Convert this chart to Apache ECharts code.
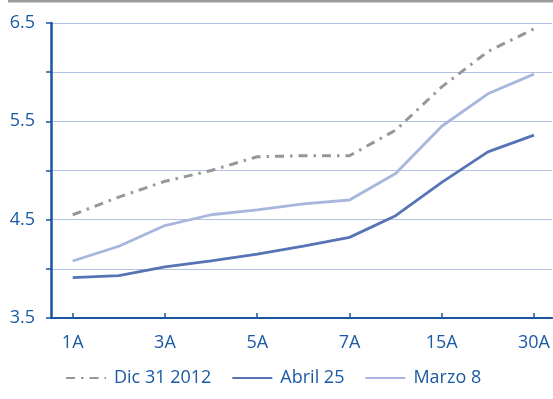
<!DOCTYPE html>
<html>
<head>
<meta charset="utf-8">
<script src="https://cdn.jsdelivr.net/npm/echarts@6/dist/echarts.min.js"></script>
<style>
  html, body { margin: 0; padding: 0; background: #ffffff; }
  #chart { width: 553px; height: 399px; }
</style>
</head>
<body>
<div id="chart"></div>
<script>
// Plazos de la curva
const categories = ['1A', '2A', '3A', '4A', '5A', '6A', '7A', '10A', '15A', '20A', '30A'];

// Rendimientos por fecha
const dic312012 = [4.55, 4.73, 4.89, 5.00, 5.14, 5.15, 5.15, 5.41, 5.85, 6.21, 6.44];
const abril25   = [3.91, 3.93, 4.02, 4.08, 4.15, 4.23, 4.32, 4.54, 4.88, 5.19, 5.36];
const marzo8    = [4.08, 4.23, 4.44, 4.55, 4.60, 4.66, 4.70, 4.97, 5.45, 5.78, 5.98];

const seriesNames = ['Dic 31 2012', 'Abril 25', 'Marzo 8'];
const yLabels = ['3.5', '4.5', '5.5', '6.5'];

// Plazos rotulados en el eje horizontal (posición dentro de categories)
const labeledIdx = [0, 2, 4, 6, 8, 10];

const blueText = '#1b5aa5';
const axisBlue = '#1a55a0';
const fontFamily = '"Open Sans", "Noto Sans", sans-serif';

// Cada plazo se ubica por su posición en la lista
const toPairs = (vals) => vals.map((v, i) => [i, v]);

const chart = echarts.init(document.getElementById('chart'), null, { renderer: 'canvas' });

chart.setOption({
  animation: false,
  backgroundColor: '#ffffff',
  graphic: [{
    type: 'rect',
    shape: { x: 8, y: 0, width: 545, height: 2.5 },
    style: { fill: '#9a9a9a' }
  }],
  grid: { left: 51, right: 0, top: 23, bottom: 81 },
  legend: {
    bottom: 7,
    left: 60,
    itemWidth: 40,
    itemHeight: 4,
    itemGap: 20,
    itemStyle: { opacity: 0 },
    textStyle: { color: blueText, fontSize: 18, fontFamily: fontFamily, padding: [0, 0, 0, 3] },
    data: seriesNames
  },
  xAxis: {
    type: 'value',
    // a little room before the first and after the last maturity
    min: -0.47,
    max: 10.39,
    axisLine: { onZero: false, lineStyle: { color: axisBlue, width: 2.2 } },
    axisTick: { customValues: labeledIdx, length: 5, inside: true, lineStyle: { color: axisBlue, width: 1.5 } },
    axisLabel: {
      customValues: labeledIdx,
      color: blueText, fontSize: 18, fontFamily: fontFamily, margin: 16,
      formatter: (v) => categories[Math.round(v)] || ''
    },
    splitLine: { show: false }
  },
  yAxis: {
    type: 'value',
    min: 3.5,
    max: 6.5,
    interval: 0.5,
    axisLine: { show: true, onZero: false, lineStyle: { color: axisBlue, width: 2.5 } },
    axisTick: { show: true, length: 5, lineStyle: { color: axisBlue, width: 1.5 } },
    axisLabel: {
      color: blueText, fontSize: 18, fontFamily: fontFamily, margin: 16,
      formatter: function (v) {
        const s = v.toFixed(1);
        return yLabels.indexOf(s) >= 0 ? s : '';
      }
    },
    splitLine: { show: true, lineStyle: { color: '#b4c0e4', width: 1 } }
  },
  series: [
    {
      name: seriesNames[0], type: 'line', data: toPairs(dic312012), symbol: 'none',
      lineStyle: { color: '#979797', width: 3, type: [9, 6, 2.5, 6] },
      itemStyle: { color: '#979797' }
    },
    {
      name: seriesNames[1], type: 'line', data: toPairs(abril25), symbol: 'none',
      lineStyle: { color: '#5673b6', width: 2.8 },
      itemStyle: { color: '#5673b6' }
    },
    {
      name: seriesNames[2], type: 'line', data: toPairs(marzo8), symbol: 'none',
      lineStyle: { color: '#a8b6de', width: 2.8 },
      itemStyle: { color: '#a8b6de' }
    }
  ]
});
</script>
</body>
</html>
